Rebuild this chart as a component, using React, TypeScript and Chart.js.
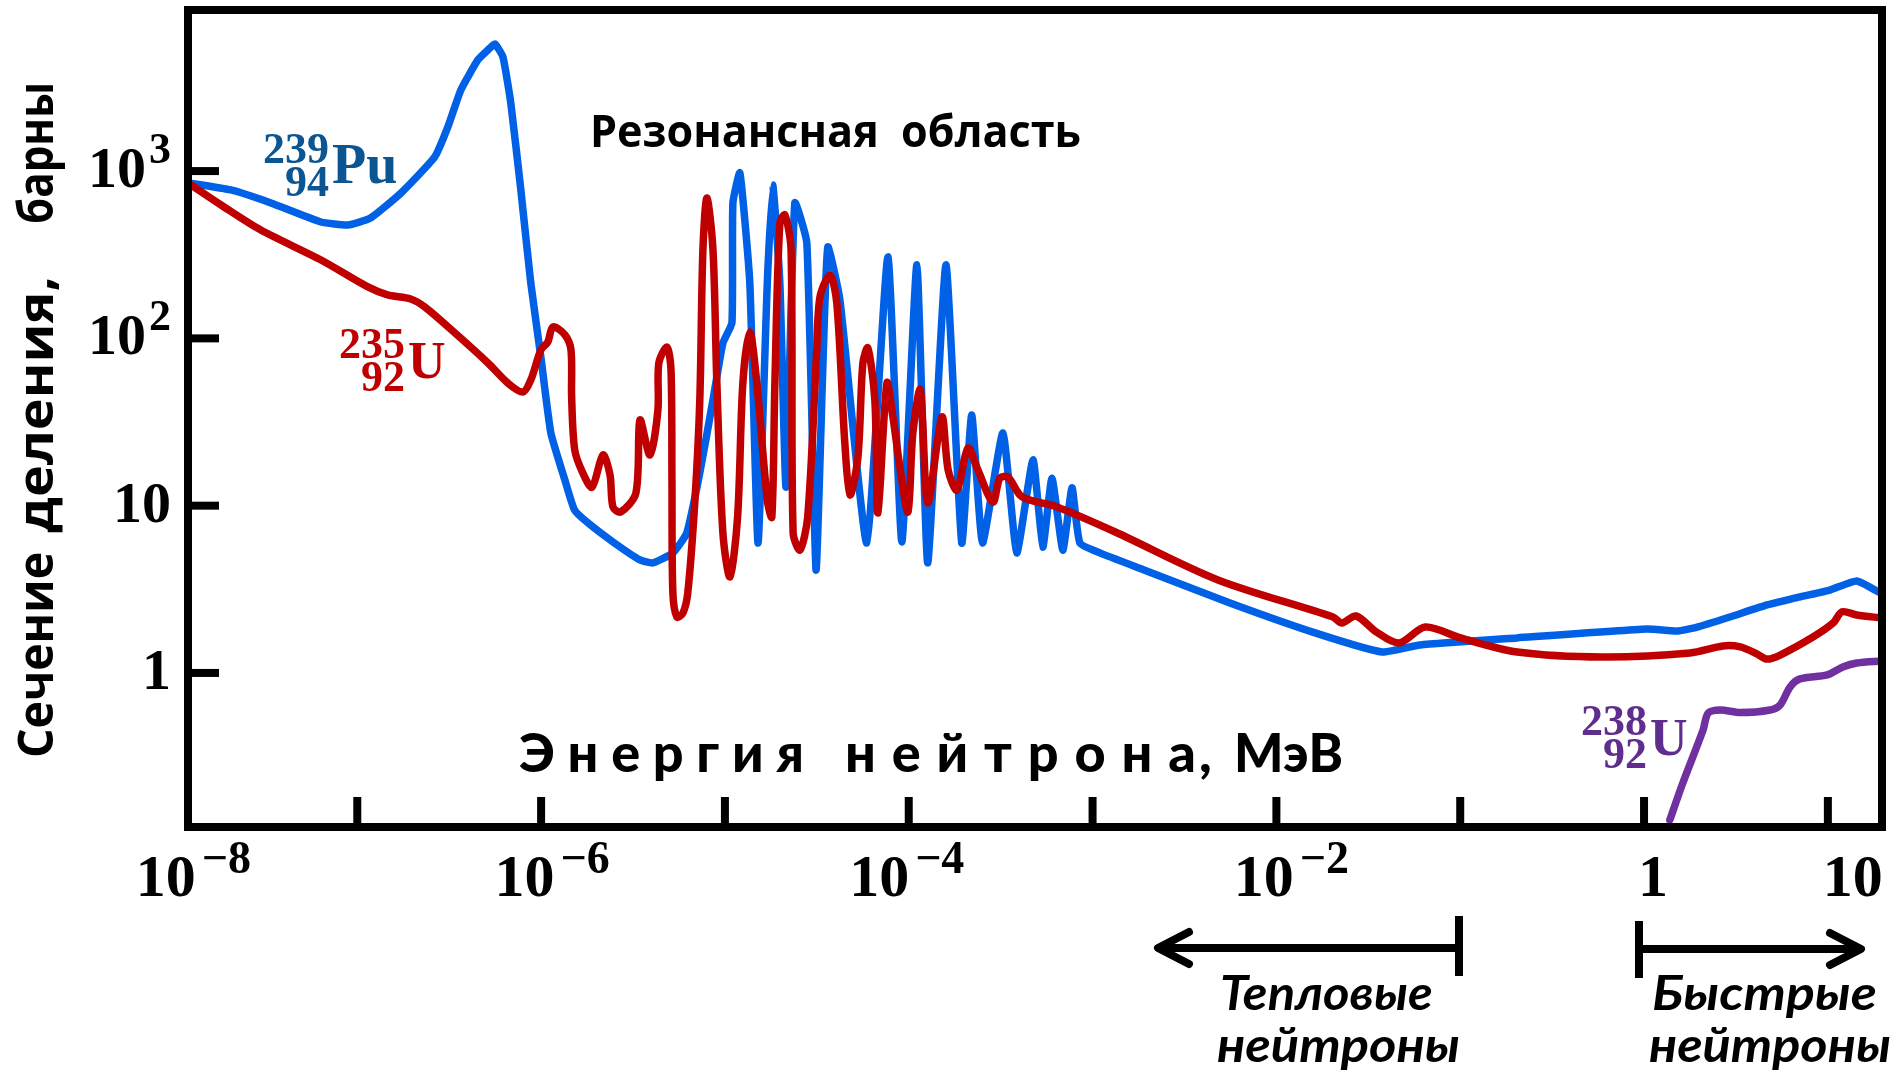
import React, { useEffect, useRef } from 'react';
import { Chart, registerables } from 'chart.js';

Chart.register(...registerables);

// ---- Data (energy in MeV, fission cross-section in barns) ----
const puEnergy = [1.2e-8, 2.05e-8, 3.39e-8, 6.35e-8, 8.88e-8, 1.18e-7, 1.73e-7, 2.64e-7, 3.11e-7, 3.66e-7, 4.53e-7, 5.14e-7, 5.6e-7, 6.2e-7, 6.84e-7, 7.76e-7, 8.79e-7, 9.97e-7, 1.13e-6, 1.348e-6, 1.52e-6, 1.8e-6, 2.46e-6, 3.45e-6, 4.06e-6, 5.21e-6, 6.2e-6, 7.3e-6, 8.61e-6, 9.75e-6, 1.092e-5, 1.105e-5, 1.206e-5, 1.366e-5, 1.514e-5, 1.7e-5, 1.82e-5, 1.99e-5, 2.15e-5, 2.4e-5, 2.79e-5, 3.13e-5, 3.41e-5, 3.63e-5, 4.22e-5, 5.91e-5, 7.7e-5, 9.17e-5, 1.107e-4, 1.268e-4, 1.593e-4, 1.942e-4, 2.2e-4, 2.52e-4, 3.25e-4, 3.87e-4, 4.74e-4, 5.36e-4, 6.01e-4, 6.89e-4, 7.73e-4, 8.53e-4, 1.096e-3, 1.905e-3, 5.59e-3, 1.64e-2, 3.76e-2, 6.04e-2, 0.204, 1.039, 1.51, 1.946, 2.93, 4.67, 7.05, 10.26, 14.36, 19.7];
const puSigma = [850, 771, 645, 496, 476, 524, 740, 1215, 1835, 3055, 4615, 5295, 5750, 4810, 2555, 771, 214, 77.4, 27.2, 14.2, 9.42, 7.88, 6.07, 4.74, 4.55, 5.22, 6.87, 15.7, 42.8, 93.8, 124, 645, 975, 214, 5.98, 214, 826, 214, 12.9, 645, 372, 4.13, 67.5, 352, 170, 5.98, 307, 6.07, 275, 4.55, 275, 5.98, 34.8, 5.98, 27.2, 5.22, 18.8, 5.66, 14.6, 5.43, 12.8, 5.98, 5.22, 4.13, 2.62, 1.73, 1.335, 1.47, 1.62, 1.83, 1.78, 1.88, 2.16, 2.55, 2.85, 3.13, 3.55, 2.97];

const u235Energy = [1.2e-8, 1.816e-8, 2.99e-8, 6.35e-8, 1.142e-7, 1.462e-7, 1.954e-7, 2.33e-7, 3.39e-7, 5.14e-7, 6.59e-7, 7.96e-7, 8.79e-7, 9.97e-7, 1.088e-6, 1.159e-6, 1.348e-6, 1.454e-6, 1.466e-6, 1.524e-6, 1.685e-6, 1.892e-6, 2.17e-6, 2.37e-6, 2.46e-6, 2.71e-6, 3.28e-6, 3.45e-6, 3.91e-6, 4.32e-6, 4.37e-6, 4.84e-6, 5.09e-6, 5.15e-6, 5.21e-6, 5.48e-6, 5.91e-6, 6.28e-6, 6.87e-6, 7.3e-6, 7.59e-6, 7.98e-6, 8.61e-6, 9.04e-6, 9.75e-6, 1.065e-5, 1.172e-5, 1.252e-5, 1.366e-5, 1.491e-5, 1.7e-5, 1.8e-5, 1.87e-5, 1.99e-5, 2.12e-5, 2.29e-5, 2.35e-5, 2.56e-5, 2.82e-5, 3.16e-5, 3.29e-5, 3.73e-5, 4.06e-5, 4.49e-5, 4.79e-5, 5.29e-5, 5.63e-5, 5.99e-5, 6.54e-5, 6.8e-5, 7.61e-5, 8.2e-5, 8.95e-5, 9.9e-5, 1.053e-4, 1.156e-4, 1.268e-4, 1.515e-4, 1.639e-4, 1.83e-4, 2.1e-4, 2.38e-4, 2.87e-4, 3.13e-4, 3.47e-4, 4.13e-4, 6.41e-4, 1.329e-3, 4.81e-3, 2.03e-2, 2.27e-2, 2.71e-2, 3.49e-2, 4.65e-2, 6.45e-2, 0.1001, 0.204, 0.599, 1.776, 2.69, 3.34, 4.11, 4.67, 5.5, 8.3, 10.69, 11.95, 14.36, 19.7];
const u235Sigma = [850, 627, 444, 294, 203, 182, 172, 154, 108, 71.3, 54.1, 47.8, 56.4, 85.3, 95.1, 117, 105, 85.3, 44.7, 21.5, 15.7, 12.9, 20.1, 15.3, 9.82, 9.17, 11.9, 32.5, 20.1, 37.3, 71.3, 88.8, 64.7, 14.2, 3.01, 2.16, 2.28, 3.01, 10.8, 42.8, 338, 691, 338, 54.1, 6.87, 3.75, 8.56, 54.1, 109, 54.1, 10.8, 8.56, 54.1, 490, 547, 338, 6.87, 5.43, 8.56, 85.3, 177, 239, 163, 23.7, 11.6, 19.5, 71.3, 87.6, 42.8, 9.04, 54.1, 33.9, 17.0, 9.17, 27.2, 49.2, 10.4, 33.9, 16.3, 12.4, 22.1, 16.3, 10.5, 14.6, 14.8, 11.3, 9.82, 6.96, 3.6, 2.16, 1.99, 2.19, 1.76, 1.51, 1.88, 1.62, 1.335, 1.246, 1.317, 1.45, 1.43, 1.3, 1.21, 1.28, 1.64, 1.99, 2.32, 2.22, 2.13];

const u238Energy = [1.38, 1.625, 2.095, 2.235, 2.595, 3.34, 4.85, 5.5, 6.23, 7.05, 9.9, 12.06, 14.36, 19.7];
const u238Sigma = [0.132, 0.22, 0.456, 0.577, 0.601, 0.58, 0.601, 0.644, 0.825, 0.921, 0.973, 1.086, 1.148, 1.18];

// ---- Axis ticks and labels ----
const xTickValues = [1e-7, 1e-6, 1e-5, 1e-4, 1e-3, 1e-2, 1e-1, 1, 10];
const xLabelValues = [1e-8, 1e-6, 1e-4, 1e-2, 1, 10];
const xLabelBase = ['10', '10', '10', '10', '1', '10'];
const xLabelExp = ['\u22128', '\u22126', '\u22124', '\u22122', '', ''];
const yTickValues = [1, 10, 100, 1000];
const yLabelBase = ['1', '10', '10', '10'];
const yLabelExp = ['', '', '2', '3'];

const xMin = 1.2e-8;
const xMax = 19.7;
const yMin = 0.12;
const yMax = 9180;

const BLUE = '#0061e6';
const RED = '#c00000';
const PURPLE = '#7030a0';
const PU_LABEL = '#0a5592';
const U238_LABEL = '#5f2d8e';

const SERIF = '"Liberation Serif", "DejaVu Serif", serif';
const SANS = '"Open Sans", "DejaVu Sans", sans-serif';
const NARROW = 'Lato, "Open Sans", sans-serif';

// label nudges (layout only, in pixels relative to the tick position)
const X_LABEL_NUDGE = [20, 11, -2, 15, 9, 25];

function fitText(ctx: CanvasRenderingContext2D, text: string, x0: number, x1: number, baseline: number, font: string, color: string) {
  ctx.save();
  ctx.font = font;
  ctx.fillStyle = color;
  ctx.textAlign = 'left';
  ctx.textBaseline = 'alphabetic';
  const w = ctx.measureText(text).width;
  const sx = (x1 - x0) / w;
  ctx.translate(x0, baseline);
  ctx.scale(sx, 1);
  ctx.fillText(text, 0, 0);
  ctx.restore();
}

function spacedText(ctx: CanvasRenderingContext2D, text: string, x0: number, x1: number, baseline: number, font: string, color: string) {
  ctx.save();
  ctx.font = font;
  ctx.fillStyle = color;
  ctx.textAlign = 'left';
  ctx.textBaseline = 'alphabetic';
  const chars = Array.from(text);
  const widths = chars.map((c) => ctx.measureText(c).width);
  const sum = widths.reduce((a, b) => a + b, 0);
  const gap = chars.length > 1 ? (x1 - x0 - sum) / (chars.length - 1) : 0;
  let x = x0;
  chars.forEach((c, i) => {
    ctx.fillText(c, x, baseline);
    x += widths[i] + gap;
  });
  ctx.restore();
}

function drawPow(ctx: CanvasRenderingContext2D, base: string, exp: string, x: number, baseline: number, align: 'center' | 'right', mainPx: number, supPx: number, raise: number, gapPx: number) {
  const mainFont = `bold ${mainPx}px ${SERIF}`;
  const supFont = `bold ${supPx}px ${SERIF}`;
  ctx.font = mainFont;
  const wb = ctx.measureText(base).width;
  let we = 0;
  if (exp) {
    ctx.font = supFont;
    we = ctx.measureText(exp).width;
  }
  const gap = exp ? gapPx : 0;
  const total = wb + gap + we;
  const x0 = align === 'center' ? x - total / 2 : x - total;
  ctx.textAlign = 'left';
  ctx.textBaseline = 'alphabetic';
  ctx.fillStyle = '#000';
  ctx.font = mainFont;
  ctx.fillText(base, x0, baseline);
  if (exp) {
    ctx.font = supFont;
    ctx.fillText(exp, x0 + wb + gap, baseline - raise);
  }
}

function drawIsotope(ctx: CanvasRenderingContext2D, mass: string, z: string, sym: string, xSym: number, baseline: number, color: string, symPx: number) {
  ctx.save();
  ctx.fillStyle = color;
  ctx.textBaseline = 'alphabetic';
  ctx.font = `bold ${symPx}px ${SERIF}`;
  ctx.textAlign = 'left';
  ctx.fillText(sym, xSym, baseline);
  ctx.font = `bold 44px ${SERIF}`;
  ctx.textAlign = 'right';
  ctx.fillText(mass, xSym - 3, baseline - 20);
  ctx.fillText(z, xSym - 3, baseline + 13);
  ctx.restore();
}

const overlay = {
  id: 'overlay',
  afterDraw(chart: any) {
    const ctx: CanvasRenderingContext2D = chart.ctx;
    const xs = chart.scales.x;
    const ys = chart.scales.y;
    const { left, right, top, bottom } = chart.chartArea;
    ctx.save();

    // frame
    ctx.strokeStyle = '#000';
    ctx.lineWidth = 8;
    ctx.lineJoin = 'miter';
    ctx.strokeRect(left, top, right - left, bottom - top);

    // x ticks
    ctx.lineCap = 'butt';
    xTickValues.forEach((v) => {
      const px = xs.getPixelForValue(v);
      ctx.beginPath();
      ctx.moveTo(px, bottom);
      ctx.lineTo(px, bottom - 30);
      ctx.stroke();
    });
    // y ticks
    yTickValues.forEach((v) => {
      const py = ys.getPixelForValue(v);
      ctx.beginPath();
      ctx.moveTo(left, py);
      ctx.lineTo(left + 31, py);
      ctx.stroke();
    });

    // x tick labels
    xLabelValues.forEach((v, i) => {
      const px = xs.getPixelForValue(v);
      drawPow(ctx, xLabelBase[i], xLabelExp[i], px + X_LABEL_NUDGE[i], bottom + 69, 'center', 60, 46, 23, 6);
    });
    // y tick labels
    yTickValues.forEach((v, i) => {
      const py = ys.getPixelForValue(v);
      drawPow(ctx, yLabelBase[i], yLabelExp[i], left - 17, py + 16, 'right', 58, 44, 24, 3);
    });

    // y axis title (rotated)
    const yTitle: [string, number, number][] = [['Сечение', 758, 552], ['деления,', 533, 276], ['барны', 224, 82]];
    yTitle.forEach(([w, y0, y1]) => {
      ctx.save();
      ctx.translate(53, y0);
      ctx.rotate(-Math.PI / 2);
      fitText(ctx, w, 0, y0 - y1, 0, `bold 49px ${SANS}`, '#000');
      ctx.restore();
    });

    // x axis title
    const xf = `900 54px ${NARROW}`;
    spacedText(ctx, 'Энергия', 519, 804, 772, xf, '#000');
    spacedText(ctx, 'нейтрона', 845, 1196, 772, xf, '#000');
    ctx.font = xf;
    ctx.fillStyle = '#000';
    ctx.textAlign = 'left';
    ctx.fillText(',', 1199, 772);
    fitText(ctx, 'МэВ', 1234, 1343, 772, xf, '#000');

    // region title
    fitText(ctx, 'Резонансная  область', 590, 1081, 147, `bold 45px ${SANS}`, '#000');

    // isotope labels
    drawIsotope(ctx, '239', '94', 'Pu', 332, 183, PU_LABEL, 56);
    drawIsotope(ctx, '235', '92', 'U', 408, 378, RED, 52);
    drawIsotope(ctx, '238', '92', 'U', 1650, 755, U238_LABEL, 52);

    // thermal arrow
    ctx.strokeStyle = '#000';
    ctx.lineWidth = 8;
    ctx.lineCap = 'butt';
    ctx.beginPath();
    ctx.moveTo(1162, 948);
    ctx.lineTo(1459, 948);
    ctx.stroke();
    ctx.beginPath();
    ctx.moveTo(1459, 916);
    ctx.lineTo(1459, 976);
    ctx.stroke();
    ctx.lineCap = 'round';
    ctx.lineJoin = 'round';
    ctx.beginPath();
    ctx.moveTo(1189, 932);
    ctx.lineTo(1158, 948);
    ctx.lineTo(1189, 964);
    ctx.stroke();

    // fast arrow
    ctx.lineCap = 'butt';
    ctx.beginPath();
    ctx.moveTo(1639, 921);
    ctx.lineTo(1639, 978);
    ctx.stroke();
    ctx.beginPath();
    ctx.moveTo(1639, 949);
    ctx.lineTo(1856, 949);
    ctx.stroke();
    ctx.lineCap = 'round';
    ctx.beginPath();
    ctx.moveTo(1830, 933);
    ctx.lineTo(1861, 949);
    ctx.lineTo(1830, 965);
    ctx.stroke();

    const ital = `italic bold 47px ${NARROW}`;
    fitText(ctx, 'Тепловые', 1220, 1433, 1010, ital, '#000');
    fitText(ctx, 'нейтроны', 1217, 1460, 1062, ital, '#000');
    fitText(ctx, 'Быстрые', 1652, 1877, 1010, ital, '#000');
    fitText(ctx, 'нейтроны', 1649, 1891, 1062, ital, '#000');

    ctx.restore();
  },
};

function toPoints(xs: number[], ys: number[]) {
  return xs.map((x, i) => ({ x, y: ys[i] }));
}

export default function App() {
  const ref = useRef<HTMLCanvasElement | null>(null);

  useEffect(() => {
    if (!ref.current) return;
    const line = { pointRadius: 0, borderWidth: 7.5, fill: false, borderJoinStyle: 'round' as const, borderCapStyle: 'round' as const };
    const chart = new Chart(ref.current, {
      type: 'line',
      data: {
        datasets: [
          { label: '235U', data: toPoints(u235Energy, u235Sigma), borderColor: RED, tension: 0.3, ...line },
          { label: '239Pu', data: toPoints(puEnergy, puSigma), borderColor: BLUE, tension: 0.15, ...line },
          { label: '238U', data: toPoints(u238Energy, u238Sigma), borderColor: PURPLE, tension: 0.3, ...line },
        ],
      },
      options: {
        responsive: false,
        animation: false,
        devicePixelRatio: 1,
        events: [],
        layout: { padding: { left: 188, top: 10, right: 19, bottom: 243 } },
        plugins: { legend: { display: false }, tooltip: { enabled: false } },
        scales: {
          x: { type: 'logarithmic', min: xMin, max: xMax, display: false },
          y: { type: 'logarithmic', min: yMin, max: yMax, display: false },
        },
      },
      plugins: [overlay],
    });
    return () => chart.destroy();
  }, []);

  return (
    <div style={{ position: 'fixed', left: 0, top: 0, width: 1901, height: 1070, background: '#fff' }}>
      <canvas ref={ref} width={1901} height={1070} style={{ display: 'block' }} />
    </div>
  );
}
